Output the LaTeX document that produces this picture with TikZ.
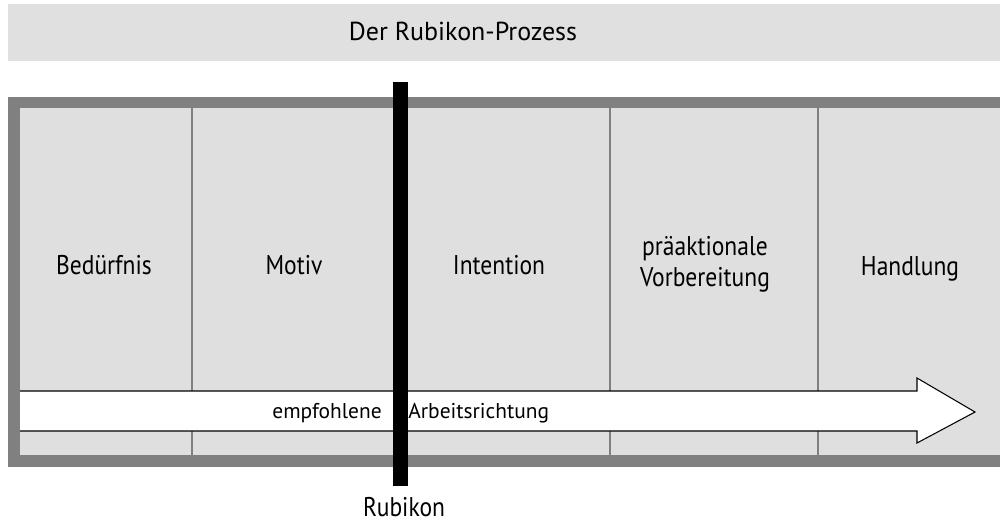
\documentclass[tikz,border=0pt]{standalone}
\usepackage{fontspec}
\setmainfont{PT Sans}
\newfontfamily\condensed{PT Sans}[FakeStretch=0.87]
\usepackage{xcolor}
\usetikzlibrary{positioning,calc}

\definecolor{framegray}{HTML}{808080}
\definecolor{cellgray}{HTML}{DFDFDF}
\definecolor{titlegray}{HTML}{E0E0E0}

\begin{document}
\begin{tikzpicture}[
    x=0.02cm, y=-0.02cm,
    phase/.style={font=\condensed\fontsize{15.4}{17.6}\selectfont, align=center, inner sep=0pt},
    heading/.style={font=\fontsize{14.8}{17}\selectfont, inner sep=0pt},
    flowtext/.style={font=\fontsize{12.2}{15}\selectfont, inner sep=0pt},
    divider/.style={framegray, line width=1.1pt},
    rubikonbar/.style={black, line width=0.3cm},
    flow/.style={draw=black, fill=white, line width=0.6pt},
]
\useasboundingbox (0,0) rectangle (1000,522);

% Title bar
\fill[titlegray] (8,4) rectangle (1000,61);
\node[heading, anchor=base] (title) at (463,40) {Der Rubikon-Prozess};

% Frame and phase columns
\fill[framegray] (8,97) rectangle (1000,467);
\fill[cellgray] (20,108) rectangle (1000,455);
\foreach \x in {192,400,610,818}
  \draw[divider] (\x,108) -- (\x,455);

% Phases
\node[phase, anchor=base] (beduerfnis) at (104,274) {Bedürfnis};
\node[phase, anchor=base] (motiv) at (294,274) {Motiv};
\node[phase, anchor=base] (intention) at (499,274) {Intention};
\node[phase] (vorbereitung) at (705,264) {präaktionale\\Vorbereitung};
\node[phase, anchor=base] (handlung) at (910,275) {Handlung};

% Working direction
\filldraw[flow] (20,391) -- (917,391) -- (917,378) -- (975,412)
  -- (917,443) -- (917,431) -- (20,431);
\node[flowtext, anchor=base east] (empfohlene) at (382,418) {empfohlene};
\node[flowtext, anchor=base west] (richtung) at (408,418) {Arbeitsrichtung};

% Rubikon
\node[phase, anchor=base] (rubikon) at (404,516) {Rubikon};
\coordinate (crossing) at (400,82);
\coordinate (rubikonend) at (400,486);
\draw[rubikonbar] (crossing) -- (rubikonend);

\end{tikzpicture}
\end{document}
